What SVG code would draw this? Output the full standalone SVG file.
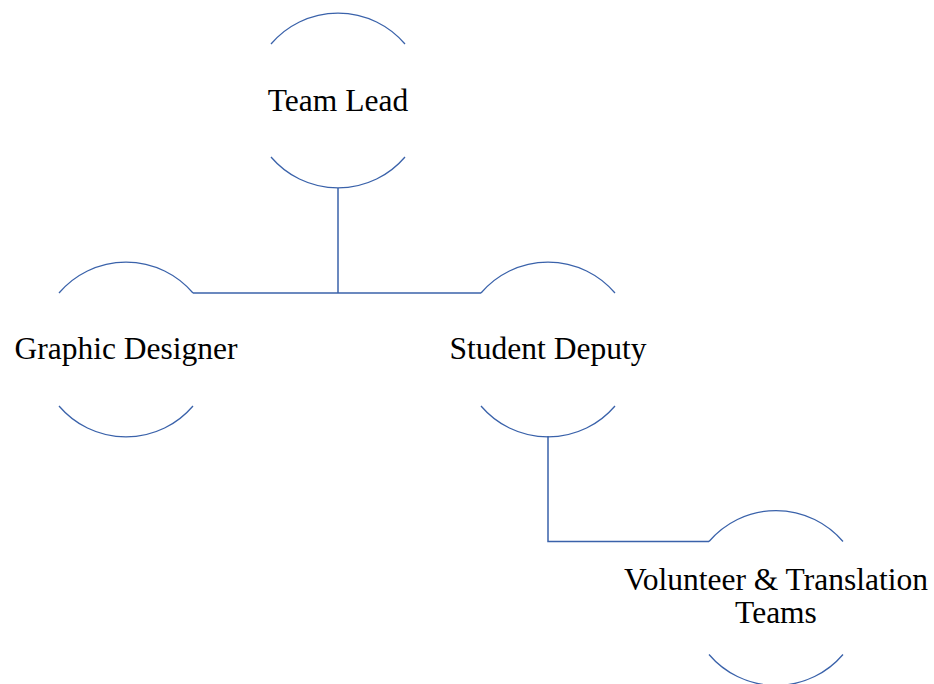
<svg xmlns="http://www.w3.org/2000/svg" width="934" height="684" viewBox="0 0 934 684">
<style>
.arc{fill:none;stroke:#3A62AA;stroke-width:1.3}
.con{fill:none;stroke:#3A62AA;stroke-width:1.5}
.t{font-family:"Liberation Serif","Times New Roman",serif;font-size:31.5px;fill:#000;text-anchor:middle}
</style>
<rect width="934" height="684" fill="#fff"/>
<g id="connectors">
<path class="con" d="M338 188 V293"/>
<path class="con" d="M193 293 H481"/>
<path class="con" d="M548 436 V541.5 H709"/>
</g>
<g id="team-lead">
<path class="arc" d="M271 44 A88 88 0 0 1 405 44"/>
<path class="arc" d="M271 157 A88 88 0 0 0 405 157"/>
<text class="t" x="338" y="111">Team Lead</text>
</g>
<g id="graphic-designer">
<path class="arc" d="M59 293 A88 88 0 0 1 193 293"/>
<path class="arc" d="M59 406 A88 88 0 0 0 193 406"/>
<text class="t" x="126" y="359">Graphic Designer</text>
</g>
<g id="student-deputy">
<path class="arc" d="M481 293 A88 88 0 0 1 615 293"/>
<path class="arc" d="M481 406 A88 88 0 0 0 615 406"/>
<text class="t" x="548" y="359">Student Deputy</text>
</g>
<g id="volunteer-translation">
<path class="arc" d="M709 541.5 A88 88 0 0 1 843 541.5"/>
<path class="arc" d="M709 654.5 A88 88 0 0 0 843 654.5"/>
<text class="t" x="776" y="590">Volunteer &amp; Translation</text>
<text class="t" x="776" y="623">Teams</text>
</g>
</svg>
